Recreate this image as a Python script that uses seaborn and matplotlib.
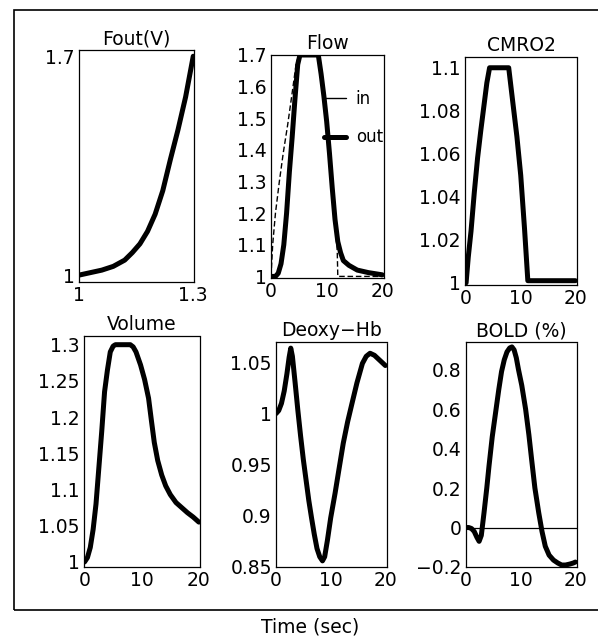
import numpy as np
import pandas as pd
import matplotlib
matplotlib.use('Agg')
import matplotlib.pyplot as plt
from matplotlib.patches import Rectangle
from matplotlib.lines import Line2D
import seaborn as sns

# --- data ---
fout_v = [1.00, 1.03, 1.06, 1.09, 1.12, 1.14, 1.16, 1.18, 1.20, 1.22, 1.24, 1.26, 1.28, 1.30]
fout_f = [1.00, 1.008, 1.016, 1.028, 1.048, 1.072, 1.10, 1.14, 1.195, 1.27, 1.37, 1.465, 1.57, 1.70]

flow_out_t = [0, 0.8, 1.3, 1.8, 2.3, 2.8, 3.3, 3.8, 4.3, 4.8, 5.2, 8.5, 9.0, 9.5, 10.0, 10.5, 11.0, 11.5, 12.0, 12.5, 13.0, 14.0, 15.5, 17.5, 20.0]
flow_out_f = [1.0, 1.0, 1.01, 1.04, 1.10, 1.20, 1.33, 1.44, 1.56, 1.67, 1.70, 1.70, 1.64, 1.57, 1.49, 1.39, 1.28, 1.18, 1.11, 1.075, 1.05, 1.035, 1.02, 1.012, 1.005]
flow_in_t = [0, 0.3, 0.8, 1.5, 2.2, 3.0, 3.8, 4.5, 5.0, 8.5, 9.5, 10.5, 11.5, 11.9, 12.0, 20.0]
flow_in_f = [1.0, 1.10, 1.20, 1.30, 1.39, 1.48, 1.58, 1.67, 1.70, 1.70, 1.57, 1.39, 1.18, 1.08, 1.0, 1.0]

cmro2_t = [0, 0.4, 0.9, 1.5, 2.1, 2.7, 3.2, 3.8, 4.3, 7.8, 8.5, 9.3, 10.0, 10.7, 11.3, 20.0]
cmro2_c = [1.0, 1.012, 1.024, 1.042, 1.058, 1.071, 1.081, 1.093, 1.10, 1.10, 1.085, 1.068, 1.05, 1.025, 1.001, 1.001]

vol_t = [0, 0.5, 1.0, 1.5, 2.0, 2.5, 3.0, 3.5, 4.0, 4.5, 5.0, 5.4, 8.0, 8.5, 9.0, 9.8, 10.5, 11.2, 11.7, 12.2, 12.8, 13.5, 14.2, 15.0, 16.0, 17.0, 18.0, 19.0, 20.0]
vol_v = [1.0, 1.006, 1.02, 1.045, 1.08, 1.13, 1.18, 1.235, 1.265, 1.29, 1.298, 1.30, 1.30, 1.297, 1.29, 1.272, 1.252, 1.226, 1.195, 1.165, 1.14, 1.12, 1.105, 1.093, 1.082, 1.075, 1.068, 1.062, 1.055]

dhb_t = [0, 0.5, 1.0, 1.5, 2.0, 2.4, 2.7, 3.0, 3.5, 4.0, 4.5, 5.0, 5.5, 6.0, 6.5, 7.0, 7.5, 8.0, 8.5, 8.9, 9.4, 10.0, 10.8, 11.5, 12.3, 13.1, 13.9, 14.8, 15.8, 16.5, 17.2, 18.0, 19.0, 20.0]
dhb_d = [1.0, 1.003, 1.01, 1.022, 1.039, 1.055, 1.064, 1.056, 1.03, 1.003, 0.978, 0.955, 0.935, 0.915, 0.898, 0.882, 0.868, 0.86, 0.856, 0.86, 0.876, 0.898, 0.922, 0.945, 0.971, 0.992, 1.01, 1.03, 1.049, 1.056, 1.059, 1.057, 1.052, 1.047]

bold_t = [0, 0.5, 1.0, 1.5, 2.0, 2.4, 2.8, 3.3, 3.8, 4.2, 4.8, 5.5, 6.0, 6.5, 7.0, 7.5, 8.0, 8.4, 8.8, 9.2, 9.6, 10.2, 10.9, 11.5, 12.0, 12.6, 13.3, 13.9, 14.5, 15.2, 16.0, 16.8, 17.5, 18.2, 19.0, 19.6, 20.0]
bold_b = [0, 0.0, -0.005, -0.02, -0.05, -0.07, -0.04, 0.076, 0.2, 0.31, 0.46, 0.6, 0.7, 0.79, 0.85, 0.89, 0.91, 0.915, 0.9, 0.86, 0.8, 0.72, 0.6, 0.47, 0.345, 0.2, 0.075, -0.02, -0.095, -0.14, -0.165, -0.18, -0.19, -0.19, -0.185, -0.18, -0.175]

time_ticks = [0, 10, 20]; time_labels = ['0', '10', '20']
fout_xticks = [1, 1.3]; fout_xlabels = ['1', '1.3']
fout_yticks = [1, 1.7]; fout_ylabels = ['1', '1.7']
flow_yticks = [1, 1.1, 1.2, 1.3, 1.4, 1.5, 1.6, 1.7]
flow_ylabels = ['1', '1.1', '1.2', '1.3', '1.4', '1.5', '1.6', '1.7']
cmro2_yticks = [1, 1.02, 1.04, 1.06, 1.08, 1.1]
cmro2_ylabels = ['1', '1.02', '1.04', '1.06', '1.08', '1.1']
vol_yticks = [1, 1.05, 1.1, 1.15, 1.2, 1.25, 1.3]
vol_ylabels = ['1', '1.05', '1.1', '1.15', '1.2', '1.25', '1.3']
dhb_yticks = [0.85, 0.9, 0.95, 1, 1.05]
dhb_ylabels = ['0.85', '0.9', '0.95', '1', '1.05']
bold_yticks = [-0.2, 0, 0.2, 0.4, 0.6, 0.8]
bold_ylabels = ['\u22120.2', '0', '0.2', '0.4', '0.6', '0.8']

sns.set_theme(style='white')
plt.rcParams['font.family'] = ['DejaVu Sans']
plt.rcParams['text.color'] = 'black'
FS = 13.5
LW = 3.6

W, H = 598, 644
fig = plt.figure(figsize=(W/100, H/100), dpi=100)
fig.patch.set_facecolor('white')

def rect(l, r, t, b):
    return [l/W, 1-b/H, (r-l)/W, (b-t)/H]

def style(ax, title, xt, xl, yt, yl, xlim, ylim):
    ax.set_xlim(*xlim); ax.set_ylim(*ylim)
    ax.set_xticks(xt); ax.set_xticklabels(xl)
    ax.set_yticks(yt); ax.set_yticklabels(yl)
    ax.tick_params(length=0, pad=3, labelsize=FS, colors='black')
    ax.set_xlabel(''); ax.set_ylabel('')
    ax.set_title(title, fontsize=FS, pad=4, color='black')
    for s in ax.spines.values():
        s.set_color('black'); s.set_linewidth(0.9); s.set_visible(True)
    ax.spines['right'].set_linestyle((0, (1.5, 1)))
    ax.grid(False)

# Fout(V)
ax1 = fig.add_axes(rect(79, 194, 50, 282))
sns.lineplot(x=fout_v, y=fout_f, ax=ax1, color='black', linewidth=LW)
style(ax1, 'Fout(V)', fout_xticks, fout_xlabels, fout_yticks, fout_ylabels, (1, 1.302), (0.978, 1.72))

# Flow
ax2 = fig.add_axes(rect(271, 384, 55, 278))
sns.lineplot(x=flow_in_t, y=flow_in_f, ax=ax2, color='black', linewidth=1.0, linestyle=(0, (4, 2)))
sns.lineplot(x=flow_out_t, y=flow_out_f, ax=ax2, color='black', linewidth=LW)
style(ax2, 'Flow', time_ticks, time_labels, flow_yticks, flow_ylabels, (0, 20.3), (0.995, 1.7))
hs = [Line2D([], [], color='black', lw=1.0), Line2D([], [], color='black', lw=LW)]
ax2.legend(hs, ['in', 'out'], loc='upper left', bbox_to_anchor=(0.47, 0.845), frameon=False,
           fontsize=12, handlelength=1.3, handletextpad=0.6, labelspacing=1.25,
           borderaxespad=0, borderpad=0, labelcolor='black')

# CMRO2
ax3 = fig.add_axes(rect(465, 577, 57, 285))
sns.lineplot(x=cmro2_t, y=cmro2_c, ax=ax3, color='black', linewidth=LW)
style(ax3, 'CMRO2', time_ticks, time_labels, cmro2_yticks, cmro2_ylabels, (-0.2, 20.3), (0.999, 1.105))

# Volume
ax4 = fig.add_axes(rect(84, 200, 336, 567))
sns.lineplot(x=vol_t, y=vol_v, ax=ax4, color='black', linewidth=LW)
style(ax4, 'Volume', time_ticks, time_labels, vol_yticks, vol_ylabels, (-0.1, 20.2), (0.993, 1.312))

# Deoxy-Hb
ax5 = fig.add_axes(rect(276, 387, 342, 567))
sns.lineplot(x=dhb_t, y=dhb_d, ax=ax5, color='black', linewidth=LW)
style(ax5, 'Deoxy\u2212Hb', time_ticks, time_labels, dhb_yticks, dhb_ylabels, (0, 20.3), (0.85, 1.07))

# BOLD (%)
ax6 = fig.add_axes(rect(466, 577, 342, 567))
ax6.axhline(0, color='black', lw=0.9)
sns.lineplot(x=bold_t, y=bold_b, ax=ax6, color='black', linewidth=LW)
style(ax6, 'BOLD (%)', time_ticks, time_labels, bold_yticks, bold_ylabels, (0, 20.3), (-0.2, 0.94))

# outer frame and shared x label
fig.add_artist(Rectangle((14/W, 1-610/H), (640-14)/W, (610-10)/H, transform=fig.transFigure,
                         fill=False, lw=1.2, edgecolor='black'))
fig.text(310/W, 1-627/H, 'Time (sec)', ha='center', va='center', fontsize=FS, color='black')

plt.savefig('out.png', dpi=100, facecolor='white')
